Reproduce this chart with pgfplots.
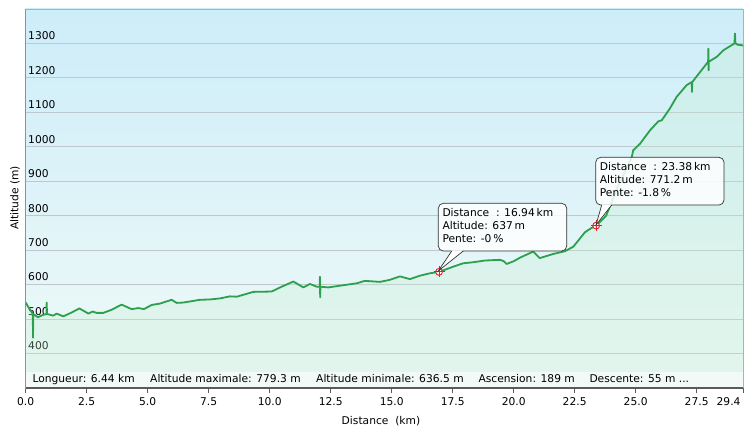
\documentclass[border=0pt]{standalone}
\usepackage{pgfplots}
\pgfplotsset{compat=1.18}
\usepackage{pgfplotstable}
\usepackage{fontspec}
\setmainfont{DejaVu Sans}

\definecolor{bgtop}{RGB}{205,237,249}
\definecolor{bgbot}{RGB}{240,250,248}
\definecolor{profil}{RGB}{44,160,76}
\definecolor{remplis}{RGB}{195,238,208}
\definecolor{grille}{RGB}{190,200,205}
\definecolor{cadre}{RGB}{170,178,182}
\definecolor{axe}{RGB}{90,90,90}
\definecolor{repere}{RGB}{230,30,40}

\pgfplotstableread{
km alt
0 548
0.15 530
0.29 515
0.30 446
0.31 515
0.5 505
0.7 512
0.85 515
0.86 548
0.87 515
1.13 510
1.27 516
1.54 508
1.88 519
2.2 531
2.57 516
2.74 522
2.91 518
3.18 518
3.52 527
3.93 542
4.34 529
4.62 532
4.85 529
5.16 541
5.5 545
5.98 556
6.19 547
6.46 548
7.14 556
7.55 557
7.96 560
8.37 566
8.65 565
9.33 579
10.08 580
10.49 594
10.97 609
11.38 592
11.65 602
11.93 594
12.05 594
12.06 623
12.07 563
12.08 594
12.4 592
13.57 604
13.9 611
14.52 608
14.93 614
15.34 624
15.75 616
16.16 626
16.57 633
16.94 637
17.52 652
17.93 662
18.34 665
18.82 670
19.44 672
19.6 668
19.71 660
20.0 668
20.28 679
20.8 696
21.07 677
21.62 689
22.1 697
22.44 710
22.65 728
22.92 752
23.2 765
23.38 771
23.79 800
24.3 890
24.84 970
24.9 990
25.18 1009
25.59 1048
25.93 1074
26.07 1077
26.4 1111
26.68 1145
27.09 1179
27.3 1188
27.31 1159
27.32 1188
27.64 1217
27.97 1247
27.98 1285
27.99 1222
28.0 1247
28.32 1261
28.59 1280
29.05 1300
29.07 1329
29.09 1300
29.2 1296
29.35 1295
29.4 1293
}\profil

\pgfplotstableread{
km alt
16.94 637
23.38 771.2
}\points

\newcommand{\petit}{\fontsize{10.7}{13}\selectfont}

\begin{document}
\begin{tikzpicture}
\useasboundingbox (0pt,0pt) rectangle (752pt,432pt);
\begin{axis}[
    at={(25.7pt,44pt)}, anchor=south west,
    scale only axis, width=717.3pt, height=379pt,
    xmin=0, xmax=29.4, ymin=300, ymax=1400,
    axis background/.style={top color=bgtop, bottom color=bgbot},
    axis line style={draw=cadre, line width=0.8pt},
    xtick={0,2.5,...,27.5},
    extra x ticks={29.4},
    extra x tick labels={29.4},
    extra x tick style={xticklabel style={anchor=north east, xshift=1pt}},
    xtick pos=bottom, tick align=outside,
    major tick length=5pt,
    x tick style={draw=axe, line width=0.8pt},
    xticklabel style={font=\petit, yshift=-1pt},
    xticklabel={\pgfmathprintnumber[fixed, fixed zerofill, precision=1]{\tick}},
    ytick={400,500,...,1300},
    y tick style={draw=none},
    yticklabel style={font=\petit, anchor=south west, xshift=4pt},
    ymajorgrids,
    grid style={draw=grille, line width=1pt},
    /pgf/number format/assume math mode=true,
    /pgf/number format/1000 sep={},
]
\addplot[draw=none, fill=remplis, fill opacity=0.28] table[x=km, y=alt] {\profil} \closedcycle;
\addplot[profil, line width=1.8pt, line join=round] table[x=km, y=alt] {\profil};
\fill[white, opacity=0.55] (axis cs:0,300) rectangle (axis cs:29.4,345);
\draw[axe, line width=1.4pt] (rel axis cs:0,1) -- (rel axis cs:0,0) -- (rel axis cs:1,0);
\addplot[only marks, mark=*, mark size=3.4pt, mark options={draw=repere, fill=white, line width=0.9pt}] table[x=km, y=alt] {\points};
\addplot[only marks, mark=+, mark size=5.5pt, mark options={draw=repere, line width=0.8pt}] table[x=km, y=alt] {\points};
\end{axis}

% barre des statistiques
\begin{scope}[every node/.style={font=\petit, inner sep=0pt, anchor=base west}]
\node at (32.3pt,49.3pt) {Longueur: 6.44 km};
\node at (150pt,49.3pt) {Altitude maximale: 779.3 m};
\node at (316pt,49.3pt) {Altitude minimale: 636.5 m};
\node at (478.3pt,49.3pt) {Ascension: 189 m};
\node at (589.3pt,49.3pt) {Descente: 55 m ...};
\end{scope}

% etiquettes des axes
\node[font=\petit, rotate=90] at (15pt,234pt) {Altitude (m)};
\node[font=\petit, anchor=base] at (381pt,8pt) {Distance\ \ (km)};

% bulles
\fill[white, opacity=0.85, rounded corners=5pt] (438.3pt,181pt) rectangle (566.7pt,228.7pt);
\draw[black!80, line width=0.7pt, rounded corners=5pt] (438.3pt,181pt) rectangle (566.7pt,228.7pt);
\fill[white] (451.7pt,181.6pt) -- (438.3pt,161pt) -- (463.3pt,181.6pt) -- cycle;
\draw[black!80, line width=0.7pt] (451.7pt,181pt) -- (438.3pt,161pt) -- (463.3pt,181pt);
\begin{scope}[every node/.style={font=\petit, inner sep=0pt, anchor=base west}]
\node at (442.3pt,216pt) {Distance\ \ : 16.94\,km};
\node at (442.3pt,203pt) {Altitude: 637\,m};
\node at (442.3pt,190pt) {Pente: -0\,\%};
\end{scope}

\fill[white, opacity=0.85, rounded corners=5pt] (595.7pt,227pt) rectangle (724pt,274.7pt);
\draw[black!80, line width=0.7pt, rounded corners=5pt] (595.7pt,227pt) rectangle (724pt,274.7pt);
\fill[white] (601.7pt,227.6pt) -- (596pt,207pt) -- (611.7pt,227.6pt) -- cycle;
\draw[black!80, line width=0.7pt] (601.7pt,227pt) -- (596pt,207pt) -- (611.7pt,227pt);
\begin{scope}[every node/.style={font=\petit, inner sep=0pt, anchor=base west}]
\node at (599.7pt,262pt) {Distance\ \ : 23.38\,km};
\node at (599.7pt,249pt) {Altitude: 771.2\,m};
\node at (599.7pt,236pt) {Pente: -1.8\,\%};
\end{scope}
\end{tikzpicture}
\end{document}
